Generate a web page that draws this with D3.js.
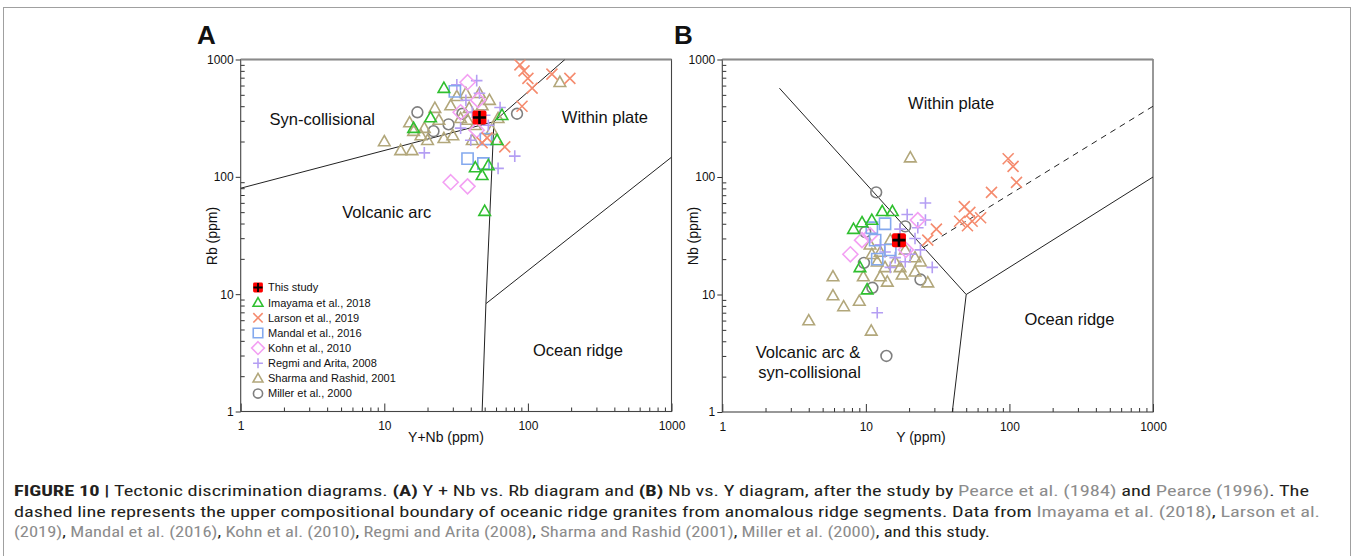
<!DOCTYPE html>
<html>
<head>
<meta charset="utf-8">
<title>Figure 10</title>
<script src="https://cdn.jsdelivr.net/npm/d3@7"></script>
<style>
  body { margin: 0; background: #fff; }
  svg { display: block; }
  text { font-family: "Liberation Sans", Arial, sans-serif; fill: #111; }
</style>
</head>
<body>
<div id="fig"></div>
<script>
// ---- data in ppm ----
const axisTicks = [1, 10, 100, 1000];
const seriesNames = ["This study", "Imayama et al., 2018", "Larson et al., 2019", "Mandal et al., 2016",
  "Kohn et al., 2010", "Regmi and Arita, 2008", "Sharma and Rashid, 2001", "Miller et al., 2000"];

// panel A : [Y+Nb, Rb]
const thisStudyA = [[46, 320]];
const imayamaA = [[26, 570], [21, 320], [16, 260], [61, 205], [43, 120], [53, 125], [48, 103], [50, 51], [66, 335]];
const larsonA = [[88, 900], [94, 800], [100, 690], [107, 570], [147, 750], [196, 690], [91, 400], [69, 180], [52, 215], [48, 195]];
const mandalA = [[31, 535], [38, 143], [49, 130], [51, 210]];
const kohnA = [[29, 90], [38, 83], [38, 640], [45, 450], [34, 355], [44, 250]];
const regmiA = [[32, 610], [44, 660], [19, 160], [81, 150], [62, 118], [64, 390], [46, 515], [37, 450], [41, 355],
  [53, 275], [40, 205], [34, 260], [50, 335]];
const sharmaA = [[10, 200], [15.6, 168], [15, 290], [16, 245], [20, 205], [24, 305], [29, 405], [30, 225], [41, 205],
  [37, 515], [46, 515], [39, 385], [54, 450], [62, 315], [43, 275], [34, 315], [26, 213], [19, 260], [22.5, 385],
  [18, 225], [167, 640], [56, 250], [38, 305], [48, 405], [32, 485], [13, 168]];
const millerA = [[17, 355], [22, 245], [28, 280], [84, 345], [35, 345]];

// panel B : [Y, Nb]
const thisStudyB = [[17, 29]];
const imayamaB = [[8.2, 36], [9.4, 41], [11, 43], [13, 51], [15.3, 51], [9.1, 17], [10.2, 11]];
const larsonB = [[98, 143], [106, 123], [112, 90], [75, 74], [48.5, 56], [53, 50], [63, 45], [51, 38.5], [55, 42],
  [31, 36], [27, 29], [45, 42]];
const mandalB = [[13.6, 40], [11.6, 29], [12, 20], [14.8, 24], [11, 37]];
const kohnB = [[7.8, 22], [9.4, 29], [23, 43], [19, 24], [10.7, 32]];
const regmiB = [[26, 60], [26, 43], [19.4, 48], [29, 17], [12, 7], [17.3, 36], [22, 30], [20.4, 22], [16, 20.6],
  [13.6, 23], [24, 24], [18.8, 19], [14.8, 17], [23, 37], [12.6, 26.5]];
const sharmaB = [[20.4, 146], [5.9, 14.2], [5.9, 9.8], [7, 7.9], [9, 8.8], [4, 6], [10.9, 4.9], [9.6, 14.2],
  [12.6, 14.2], [14.1, 12.8], [17.9, 14.7], [22, 15.6], [27, 12.6], [10.7, 26.5], [12.6, 23], [16, 19], [18.8, 24],
  [22, 20.6], [12, 19], [14.8, 29], [24, 19], [13.6, 17], [17.3, 17], [11, 22]];
const millerB = [[11.8, 74], [9.9, 34], [9.7, 18.6], [11.1, 11.4], [24, 13.4], [13.9, 3], [18.8, 38]];

// field boundaries (Pearce et al., 1984; Pearce, 1996)
const boundsA = [
  [[1, 80], [58, 295]],
  [[58, 295], [181, 1000]],
  [[58, 295], [51, 8.3], [48, 1]],
  [[51, 8.3], [1000, 147]]
];
const boundsB = [
  [[2.5, 570], [50, 10]],
  [[50, 10], [1000, 100]],
  [[50, 10], [40, 1]]
];
const dashedB = [[25, 25], [1000, 400]];

const fieldNamesA = ["Syn-collisional", "Within plate", "Volcanic arc", "Ocean ridge"];
const fieldNamesB = ["Within plate", "Ocean ridge", "Volcanic arc &", "syn-collisional"];

// ---- styles ----
const kinds = ["study", "tri", "cross", "square", "diamond", "plus", "tri", "circle"];
const colors = ["#ff0000", "#2fbf2f", "#f58b6e", "#84a9ee", "#f3a0f3", "#b49ef3", "#b2a77b", "#7f7f7f"];

const W = 1354, H = 556;
const svg = d3.select("#fig").append("svg").attr("width", W).attr("height", H);

// outer frame of the figure
svg.append("rect")
  .attr("x", 3.5).attr("y", 7.5).attr("width", 1347).attr("height", 600)
  .attr("fill", "none").attr("stroke", "#a0a0a0").attr("stroke-width", 1);

function markerPath(kind, s) {
  const p = d3.path();
  if (kind === "tri") {
    p.moveTo(0, -6 * s); p.lineTo(5.8 * s, 4.2 * s); p.lineTo(-5.8 * s, 4.2 * s); p.closePath();
  } else if (kind === "cross") {
    p.moveTo(-5.5 * s, -5.5 * s); p.lineTo(5.5 * s, 5.5 * s);
    p.moveTo(5.5 * s, -5.5 * s); p.lineTo(-5.5 * s, 5.5 * s);
  } else if (kind === "square") {
    p.rect(-5.6 * s, -5.6 * s, 11.2 * s, 11.2 * s);
  } else if (kind === "diamond") {
    p.moveTo(0, -7.5 * s); p.lineTo(7.5 * s, 0); p.lineTo(0, 7.5 * s); p.lineTo(-7.5 * s, 0); p.closePath();
  } else if (kind === "plus") {
    p.moveTo(-5.8 * s, 0); p.lineTo(5.8 * s, 0);
    p.moveTo(0, -5.8 * s); p.lineTo(0, 5.8 * s);
  } else if (kind === "circle") {
    p.arc(0, 0, 5.4 * s, 0, 2 * Math.PI);
  }
  return p.toString();
}

function addMarker(g, kind, color, s) {
  if (kind === "study") {
    g.append("rect")
      .attr("x", -7 * s).attr("y", -7 * s).attr("width", 14 * s).attr("height", 14 * s)
      .attr("rx", 2 * s).attr("fill", color);
    g.append("path")
      .attr("d", `M${-6.5 * s},0H${6.5 * s}M0,${-6.5 * s}V${6.5 * s}`)
      .attr("stroke", "#000").attr("stroke-width", 2.6 * s);
    return;
  }
  g.append("path")
    .attr("d", markerPath(kind, s))
    .attr("fill", "none")
    .attr("stroke", color)
    .attr("stroke-width", 1.6);
}

const panels = [
  {
    id: "A", xr: [240.7, 671.5], yr: [411.5, 59.5],
    data: [thisStudyA, imayamaA, larsonA, mandalA, kohnA, regmiA, sharmaA, millerA],
    bounds: boundsA, dashed: null,
    fields: fieldNamesA, fieldAt: [[3.7, 308], [344, 321], [10.4, 50], [223, 3.3]],
    xTitle: "Y+Nb (ppm)", yTitle: "Rb (ppm)", xTitleX: 446, yTitleX: 217, letterX: 197, legend: true
  },
  {
    id: "B", xr: [722.3, 1153], yr: [412, 59.5],
    data: [thisStudyB, imayamaB, larsonB, mandalB, kohnB, regmiB, sharmaB, millerB],
    bounds: boundsB, dashed: dashedB,
    fields: fieldNamesB, fieldAt: [[39.3, 422], [262, 6.1], [3.95, 3.25], [4.05, 2.2]],
    xTitle: "Y (ppm)", yTitle: "Nb (ppm)", xTitleX: 921, yTitleX: 698, letterX: 674, legend: false
  }
];

panels.forEach(p => {
  const x = d3.scaleLog().domain([1, 1000]).range(p.xr);
  const y = d3.scaleLog().domain([1, 1000]).range(p.yr);
  const line = d3.line().x(d => x(d[0])).y(d => y(d[1]));
  const minor = x.ticks().filter(v => !axisTicks.includes(v));
  const g = svg.append("g");

  svg.append("clipPath").attr("id", "clip" + p.id)
    .append("rect")
    .attr("x", p.xr[0]).attr("y", p.yr[1])
    .attr("width", p.xr[1] - p.xr[0]).attr("height", p.yr[0] - p.yr[1]);

  // axes: minor ticks inside, decades labelled
  const xMinor = g.append("g").attr("transform", `translate(0,${p.yr[0]})`)
    .call(d3.axisBottom(x).tickValues(minor).tickSize(-4).tickSizeOuter(0).tickFormat(""));
  const xMajor = g.append("g").attr("transform", `translate(0,${p.yr[0]})`)
    .call(d3.axisBottom(x).tickValues(axisTicks).tickSize(-8).tickSizeOuter(0).tickPadding(10).tickFormat(d3.format("d")));
  const yMinor = g.append("g").attr("transform", `translate(${p.xr[0]},0)`)
    .call(d3.axisLeft(y).tickValues(minor).tickSize(-4).tickSizeOuter(0).tickFormat(""));
  const yMajor = g.append("g").attr("transform", `translate(${p.xr[0]},0)`)
    .call(d3.axisLeft(y).tickValues(axisTicks).tickSize(5).tickSizeOuter(0).tickPadding(2).tickFormat(d3.format("d")));
  [xMinor, xMajor, yMinor, yMajor].forEach(a => {
    a.select(".domain").remove();
    a.selectAll("line").attr("stroke", "#333");
    a.selectAll("text").style("font-size", "12px").attr("fill", "#111");
  });

  // plot frame
  g.append("rect")
    .attr("x", p.xr[0]).attr("y", p.yr[1])
    .attr("width", p.xr[1] - p.xr[0]).attr("height", p.yr[0] - p.yr[1])
    .attr("fill", "none").attr("stroke", "#444").attr("stroke-width", 1.1);
  g.append("line")
    .attr("x1", p.xr[0]).attr("x2", p.xr[1]).attr("y1", p.yr[1]).attr("y2", p.yr[1])
    .attr("stroke", "#8a8a8a").attr("stroke-width", 2);

  const plot = g.append("g").attr("clip-path", `url(#clip${p.id})`);

  plot.selectAll(".bound")
    .data(p.bounds)
    .enter().append("path")
    .attr("class", "bound")
    .attr("d", line)
    .attr("fill", "none").attr("stroke", "#222").attr("stroke-width", 1);

  if (p.dashed) {
    plot.append("path")
      .attr("d", line(p.dashed))
      .attr("fill", "none").attr("stroke", "#222").attr("stroke-width", 1)
      .attr("stroke-dasharray", "6,5");
  }

  // points, legend order reversed so "This study" ends on top
  d3.range(seriesNames.length - 1, -1, -1).forEach(i => {
    plot.selectAll(null)
      .data(p.data[i])
      .enter().append("g")
      .attr("transform", d => `translate(${x(d[0])},${y(d[1])})`)
      .each(function() { addMarker(d3.select(this), kinds[i], colors[i], 1); });
  });

  // field names
  g.selectAll(".field")
    .data(p.fields)
    .enter().append("text")
    .attr("class", "field")
    .attr("x", (d, i) => x(p.fieldAt[i][0]))
    .attr("y", (d, i) => y(p.fieldAt[i][1]))
    .attr("dy", ".35em")
    .style("text-anchor", "middle")
    .style("font-size", "16.5px")
    .text(d => d);

  // axis titles and panel letter
  g.append("text")
    .attr("x", p.xTitleX).attr("y", 442)
    .style("text-anchor", "middle").style("font-size", "14px")
    .text(p.xTitle);
  g.append("text")
    .attr("transform", `translate(${p.yTitleX},236) rotate(-90)`)
    .style("text-anchor", "middle").style("font-size", "14px")
    .text(p.yTitle);
  g.append("text")
    .attr("x", p.letterX).attr("y", 44)
    .style("font-size", "26px").style("font-weight", "bold")
    .text(p.id);

  if (p.legend) {
    const legend = g.selectAll(".legend")
      .data(seriesNames)
      .enter().append("g")
      .attr("class", "legend")
      .attr("transform", (d, i) => `translate(258,${287.5 + i * 15.15})`);
    legend.each(function(d, i) { addMarker(d3.select(this), kinds[i], colors[i], i === 0 ? 0.7 : 0.85); });
    legend.append("text")
      .attr("x", 10)
      .attr("dy", ".35em")
      .style("font-size", "11px")
      .text(d => d);
  }
});

// ---- caption ----
const captionLines = [
  [["FIGURE 10 | ", "b"], ["Tectonic discrimination diagrams. ", "k"], ["(A)", "b"], [" Y + Nb vs. Rb diagram and ", "k"],
   ["(B)", "b"], [" Nb vs. Y diagram, after the study by ", "k"], ["Pearce et al. (1984)", "g"], [" and ", "k"],
   ["Pearce (1996)", "g"], [". The", "k"]],
  [["dashed line represents the upper compositional boundary of oceanic ridge granites from anomalous ridge segments. Data from ", "k"],
   ["Imayama et al. (2018)", "g"], [", ", "k"], ["Larson et al.", "g"]],
  [["(2019)", "g"], [", ", "k"], ["Mandal et al. (2016)", "g"], [", ", "k"], ["Kohn et al. (2010)", "g"], [", ", "k"],
   ["Regmi and Arita (2008)", "g"], [", ", "k"], ["Sharma and Rashid (2001)", "g"], [", ", "k"],
   ["Miller et al. (2000)", "g"], [", and this study.", "k"]]
];
const captionWidths = [1295, 1306, 976];

const caption = svg.selectAll(".caption")
  .data(captionLines)
  .enter().append("text")
  .attr("class", "caption")
  .attr("x", 14)
  .attr("y", (d, i) => 496 + i * 20.5)
  .attr("textLength", (d, i) => captionWidths[i])
  .attr("lengthAdjust", "spacingAndGlyphs")
  .style("font-family", "'Liberation Sans Narrow', 'Roboto Condensed', 'Liberation Sans', Arial, sans-serif")
  .style("font-size", "14.5px");

caption.selectAll("tspan")
  .data(d => d)
  .enter().append("tspan")
  .attr("fill", d => d[1] === "g" ? "#8c8c8c" : "#231f20")
  .style("font-weight", d => d[1] === "b" ? "bold" : "normal")
  .text(d => d[0]);
</script>
</body>
</html>
